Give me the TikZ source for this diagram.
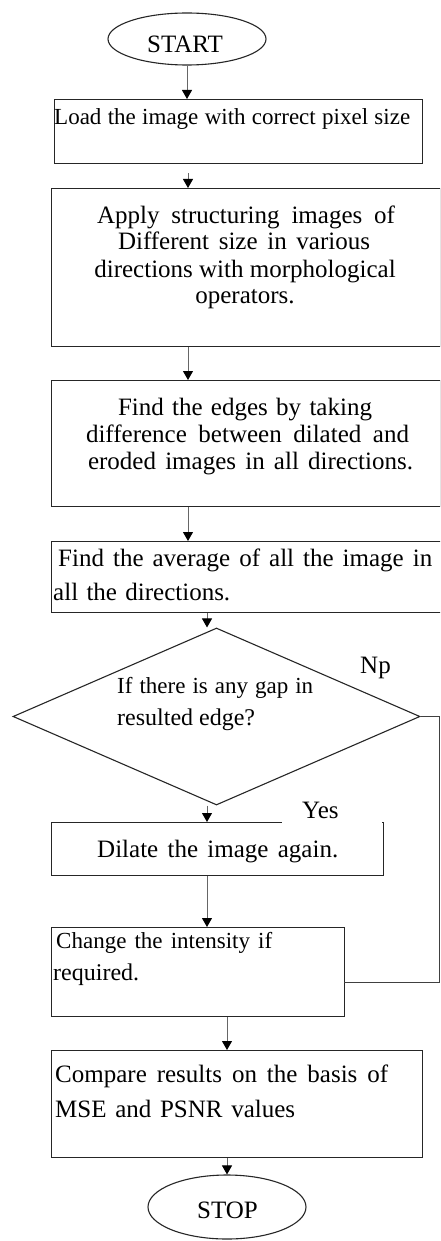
\documentclass[tikz,border=0pt]{standalone}
\usepackage{fontspec}
\setmainfont{Liberation Serif}
\usetikzlibrary{arrows.meta,shapes.geometric}
\newcommand\fitline[2]{\makebox[#1][s]{#2}}

\begin{document}
\begin{tikzpicture}[x=1pt,y=-1pt,
  box/.style={draw=black!85, line width=1.3pt, rectangle, inner sep=0pt, anchor=north west},
  term/.style={draw=black!85, line width=1.1pt, ellipse, inner sep=0pt},
  txt/.style={inner sep=0pt, anchor=base west, font=\fontsize{25}{27}\selectfont},
  ctxt/.style={txt, anchor=base},
  stxt/.style={txt, font=\fontsize{23}{25}\selectfont},
  mtxt/.style={txt, font=\fontsize{24}{26}\selectfont},
  flow/.style={draw=black!60, line width=1pt, -{Triangle[length=9pt,width=10pt,color=black]}},
  back/.style={draw=black!75, line width=1pt},
]
\path[use as bounding box] (0,0) rectangle (440,1241);
\clip (0,0) rectangle (440,1241);
\fill[white] (0,0) rectangle (440,1241);

% x positions of the vertical connectors
\coordinate (ax) at (188,0);
\coordinate (bx) at (207,0);
\coordinate (cx) at (227,0);
\coordinate (nx) at (439,0);
\coordinate (nj) at (344,982);

% terminals
\node[term, minimum width=158pt, minimum height=52pt] (start) at (187,39) {};
\node[ctxt] (tstart) at (185,53) {START};

% process boxes
\node[box, minimum width=368pt, minimum height=64pt] (load) at (54,99) {};
\node[stxt] (tload) at (54,125) {\fitline{356pt}{Load the image with correct pixel size}};

\node[box, minimum width=389pt, minimum height=158pt] (apply) at (51,188) {};
\node[ctxt] (tap1) at (246,224) {\fitline{298pt}{Apply structuring  images of}};
\node[ctxt] (tap2) at (244,250) {\fitline{252pt}{Different size in various}};
\node[ctxt] (tap3) at (245,277) {directions with morphological};
\node[ctxt] (tap4) at (245,303) {operators.};

\node[box, minimum width=389pt, minimum height=126pt] (edges) at (51,380) {};
\node[ctxt] (ted1) at (245,415) {\fitline{254pt}{Find the edges by taking}};
\node[ctxt] (ted2) at (247.5,442) {\fitline{323pt}{difference between dilated and}};
\node[ctxt] (ted3) at (250.5,469) {\fitline{325pt}{eroded images in all directions.}};

\node[box, minimum width=400pt, minimum height=71pt] (avg) at (51,541) {};
\node[txt] (tav1) at (58,566) {\fitline{374pt}{Find the average of all the image in}};
\node[txt] (tav2) at (53,600) {\fitline{177pt}{all the directions.}};

% decision
\node[draw=black!85, line width=1.1pt, diamond, inner sep=0pt,
      minimum width=407pt, minimum height=177pt] (dec) at (216.5,716.5) {};
\node[stxt] (tdc1) at (117,693) {\fitline{196pt}{If there is any gap in}};
\node[mtxt] (tdc2) at (117,725) {resulted edge?};
\node[txt] (tno) at (360,673) {Np};

\node[box, minimum width=332pt, minimum height=53pt] (dilate) at (51,822) {};
\node[txt] (tdil) at (97,857) {\fitline{241pt}{Dilate the image again.}};
% label area over the box edge
\fill[white] (282,795) rectangle (382.2,823.6);
\node[txt] (tyes) at (302,818) {Yes};

\node[box, minimum width=293pt, minimum height=89pt] (inten) at (51,927) {};
\node[stxt] (tin1) at (56,948) {\fitline{216pt}{Change the intensity if}};
\node[mtxt] (tin2) at (53,980) {required.};

\node[box, minimum width=371pt, minimum height=107pt] (cmp) at (51,1050) {};
\node[txt] (tcm1) at (55,1082) {\fitline{333pt}{Compare results  on the basis  of}};
\node[txt] (tcm2) at (55,1117) {\fitline{240pt}{MSE and PSNR values}};

\node[term, minimum width=158pt, minimum height=64pt] (stop) at (227,1207) {};
\node[ctxt] (tstop) at (227.5,1218) {STOP};

% connectors
\draw[flow] (start.south) -- (start.south |- load.north);
\draw[flow, shorten <=9pt] (load.south -| ax) -- (apply.north -| ax);
\draw[flow] (apply.south -| ax) -- (edges.north -| ax);
\draw[flow] (edges.south -| ax) -- (avg.north -| ax);
\draw[flow] (avg.south -| bx) -- (dec.north -| bx);
\draw[flow] (dec.south -| bx) -- (dilate.north -| bx);
\draw[flow] (dilate.south -| bx) -- (inten.north -| bx);
\draw[flow] (inten.south -| cx) -- (cmp.north -| cx);
\draw[flow] (cmp.south -| stop.north) -- (stop.north);
\draw[back] (dec.east) -- (dec.east -| nx) -- (nj -| nx) -- (nj);
\end{tikzpicture}
\end{document}
